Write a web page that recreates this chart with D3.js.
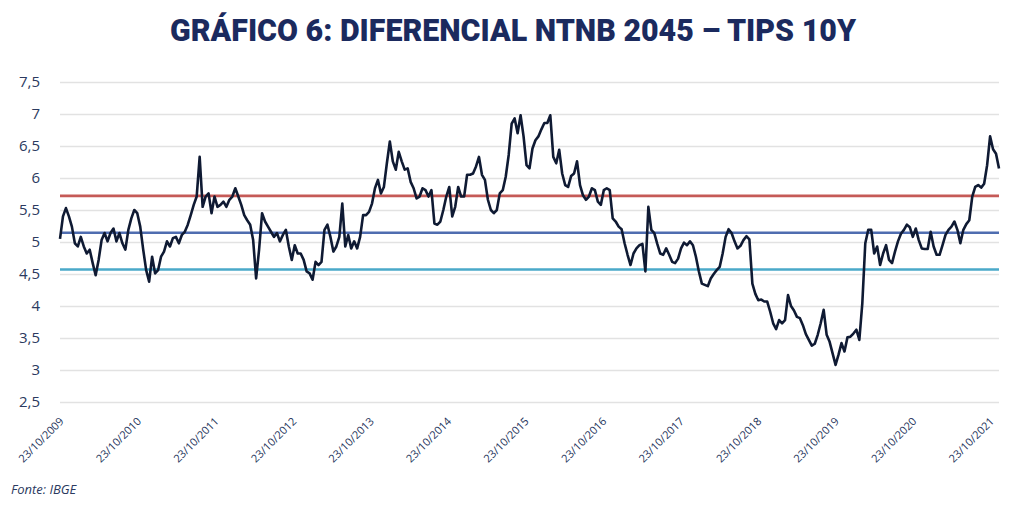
<!DOCTYPE html>
<html><head><meta charset="utf-8">
<script src="https://cdn.jsdelivr.net/npm/d3@7"></script>
<style>
html,body{margin:0;padding:0;background:#fff;}
svg{display:block;}
</style></head>
<body>
<svg id="chart" width="1024" height="511"></svg>
<script>
// ---- Data ----
const titleText = "GRÁFICO 6: DIFERENCIAL NTNB 2045 – TIPS 10Y";
const sourceText = "Fonte: IBGE";
const startDate = "2009-10-23";   // first observation
const stepDays = 14;              // observations every two weeks
const spreadValues = [
5.05,5.40,5.53,5.40,5.24,4.98,4.93,5.08,4.93,4.82,4.88,4.67,4.48,4.72,5.03,5.14,5.01,5.14,5.21,5.01,
5.14,4.98,4.88,5.19,5.37,5.50,5.45,5.24,4.88,4.56,4.38,4.77,4.51,4.56,4.77,4.85,5.01,4.93,5.06,5.08,
4.98,5.11,5.16,5.27,5.42,5.58,5.71,6.33,5.55,5.71,5.76,5.45,5.71,5.55,5.58,5.63,5.55,5.66,5.71,5.84,
5.71,5.58,5.42,5.34,5.27,5.03,4.43,4.88,5.45,5.32,5.24,5.16,5.08,5.14,5.01,5.11,5.19,4.93,4.72,4.95,
4.82,4.82,4.72,4.54,4.51,4.41,4.69,4.64,4.69,5.19,5.27,5.08,4.85,4.93,5.08,5.60,4.93,5.11,4.90,5.01,
4.90,5.08,5.42,5.42,5.47,5.60,5.84,5.97,5.76,5.86,6.23,6.57,6.26,6.13,6.41,6.26,6.13,6.15,5.94,5.84,
5.68,5.71,5.84,5.81,5.71,5.81,5.29,5.27,5.32,5.50,5.71,5.86,5.40,5.55,5.86,5.71,5.71,6.05,6.05,6.07,
6.18,6.33,6.05,5.97,5.66,5.50,5.45,5.50,5.76,5.81,6.02,6.36,6.85,6.93,6.70,6.98,6.65,6.20,6.15,6.46,
6.59,6.65,6.76,6.86,6.86,6.98,6.33,6.23,6.44,6.07,5.89,5.86,6.03,6.07,6.26,5.89,5.73,5.66,5.71,5.84,
5.81,5.63,5.58,5.81,5.84,5.81,5.37,5.32,5.24,5.20,4.98,4.80,4.64,4.82,4.90,4.95,4.97,4.54,5.55,5.19,
5.14,4.97,4.82,4.80,4.90,4.80,4.69,4.67,4.74,4.90,4.99,4.95,5.01,4.95,4.77,4.54,4.35,4.33,4.31,4.43,
4.50,4.56,4.61,4.82,5.08,5.20,5.14,5.01,4.90,4.94,5.03,5.09,5.04,4.35,4.19,4.09,4.10,4.07,4.07,3.91,
3.73,3.64,3.78,3.73,3.78,4.17,4.00,3.93,3.83,3.81,3.70,3.56,3.47,3.38,3.41,3.55,3.73,3.94,3.55,3.44,
3.26,3.08,3.24,3.42,3.29,3.51,3.52,3.57,3.63,3.47,4.04,4.98,5.19,5.19,4.82,4.93,4.64,4.82,4.95,4.72,
4.67,4.85,5.01,5.13,5.19,5.27,5.23,5.08,5.21,5.03,4.90,4.89,4.89,5.16,4.93,4.80,4.80,4.95,5.11,5.19,
5.24,5.32,5.19,4.98,5.19,5.28,5.34,5.71,5.86,5.89,5.85,5.91,6.20,6.65,6.45,6.38,6.15
];
const refNames = ["alto", "média", "baixo"];
const refValues = [5.72, 5.145, 4.57];
const refColors = ["#c55a57", "#4f6db0", "#4aa9c9"];
const yTicks = [2.5,3,3.5,4,4.5,5,5.5,6,6.5,7,7.5];
const xTickLabels = ["23/10/2009","23/10/2010","23/10/2011","23/10/2012","23/10/2013","23/10/2014",
  "23/10/2015","23/10/2016","23/10/2017","23/10/2018","23/10/2019","23/10/2020","23/10/2021"];

// ---- Build ----
const parse = d3.timeParse("%Y-%m-%d");
const parseTick = d3.timeParse("%d/%m/%Y");
const t0 = parse(startDate);
const series = spreadValues.map((v,i)=>({date:d3.timeDay.offset(t0, i*stepDays), value:v}));

const svg = d3.select("#chart");
const W = 1024, H = 511;
const margin = {left:60, right:25, top:82, bottom:109};
const x = d3.scaleTime()
  .domain(d3.extent(series, d=>d.date))
  .range([margin.left, W - margin.right]);
const y = d3.scaleLinear().domain([2.5, 7.5]).range([H - margin.bottom, margin.top]);

const fmt = d3.formatLocale({decimal:",", thousands:".", grouping:[3], currency:["R$",""]}).format(".1~f");

svg.append("rect").attr("width",W).attr("height",H).attr("fill","#fff");

// title
svg.append("text")
  .attr("x", 513).attr("y", 41)
  .attr("text-anchor","middle")
  .attr("font-family","Roboto, 'Open Sans', sans-serif")
  .attr("font-weight", 900)
  .attr("font-size", 31)
  .attr("fill", "#1b2a5e")
  .attr("textLength", 686).attr("lengthAdjust","spacingAndGlyphs")
  .text(titleText);

// y grid + labels
const yAxis = d3.axisLeft(y).tickValues(yTicks).tickSize(-(W - margin.left - margin.right)).tickFormat(fmt).tickPadding(20);
const gy = svg.append("g").attr("transform",`translate(${margin.left},0)`).call(yAxis);
gy.select(".domain").remove();
gy.selectAll(".tick line").attr("stroke","#e2e2e2").attr("stroke-width",1.5);
gy.selectAll(".tick text")
  .attr("font-family","'Open Sans', sans-serif")
  .attr("font-size",15).attr("fill","#2b3a60");

// reference lines
svg.append("g").selectAll("line").data(refValues).join("line")
  .attr("x1", margin.left).attr("x2", W - margin.right)
  .attr("y1", d=>y(d)).attr("y2", d=>y(d))
  .attr("stroke", (d,i)=>refColors[i]).attr("stroke-width", 2.6);

// series line
svg.append("path").datum(series)
  .attr("fill","none").attr("stroke","#0f1a33").attr("stroke-width",2.6)
  .attr("stroke-linejoin","round")
  .attr("d", d3.line().x(d=>x(d.date)).y(d=>y(d.value)));

// x axis labels
const xAxis = d3.axisBottom(x).tickValues(xTickLabels.map(parseTick)).tickSize(0)
  .tickFormat((d,i)=>xTickLabels[i]);
const gx = svg.append("g").attr("transform",`translate(0,${H - margin.bottom})`).call(xAxis);
gx.select(".domain").remove();
gx.selectAll(".tick text")
  .attr("font-family","'Open Sans', sans-serif")
  .attr("font-size",11).attr("fill","#24335a")
  .attr("text-anchor","end")
  .attr("y",0).attr("dy","0")
  .attr("transform","translate(4,20) rotate(-45)");

// source
svg.append("text").attr("x",11).attr("y",494)
  .attr("font-family","'Open Sans', sans-serif").attr("font-style","italic")
  .attr("font-size",13).attr("fill","#2b3a60").text(sourceText);
</script>
</body></html>
